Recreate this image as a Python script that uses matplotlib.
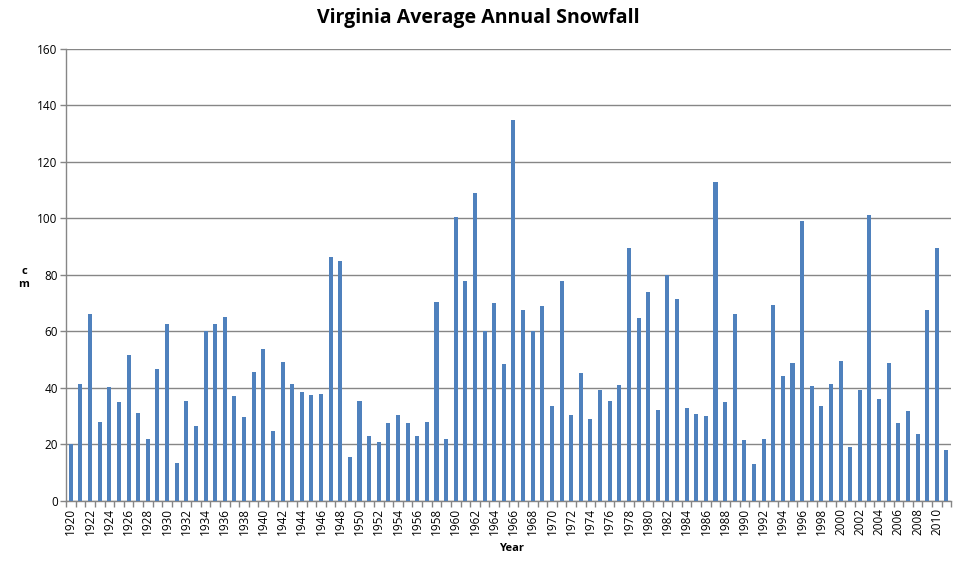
import matplotlib
matplotlib.use("Agg")
import matplotlib.pyplot as plt
import numpy as np

years = list(range(1920, 2012))
snowfall_cm = [
    20.2, 41.4, 66.2, 28.0, 40.4, 35.0, 51.7, 31.2, 21.9, 46.7,
    62.7, 13.5, 35.4, 26.5, 60.1, 62.7, 65.1, 37.2, 29.7, 45.7,
    53.8, 24.8, 49.2, 41.4, 38.6, 37.5, 37.9, 86.4, 85.0, 15.6,
    35.4, 23.0, 20.9, 27.6, 30.4, 27.6, 23.0, 28.0, 70.4, 21.9,
    100.5, 77.9, 109.0, 60.1, 70.1, 48.5, 134.9, 67.6, 60.1, 69.0,
    33.6, 77.9, 30.4, 45.3, 29.0, 39.3, 35.4, 41.1, 89.6, 64.8,
    74.0, 32.2, 80.0, 71.5, 32.9, 30.8, 30.1, 112.9, 35.0, 66.2,
    21.6, 13.1, 21.9, 69.4, 44.2, 48.8, 99.1, 40.7, 33.6, 41.4,
    49.6, 19.1, 39.3, 101.2, 36.1, 48.8, 27.6, 31.9, 23.7, 67.6,
    89.6, 18.1,
]
y_ticks = [0, 20, 40, 60, 80, 100, 120, 140, 160]

title = "Virginia Average Annual Snowfall"
x_title = "Year"
y_title = "c\nm"

plt.rcParams['font.family'] = ['Open Sans', 'DejaVu Sans']

fig = plt.figure(figsize=(9.57, 5.67), dpi=100)
ax = fig.add_axes([0.069, 0.1164, 0.925, 0.7972])

x = np.arange(len(years))
ax.bar(x, snowfall_cm, width=0.42, color="#4F81BD", zorder=3)

ax.set_xlim(-0.5, len(years) - 0.5)
ax.set_ylim(0, 160)
ax.set_yticks(y_ticks)
ax.set_yticklabels([str(v) for v in y_ticks], fontsize=8.5)
ax.yaxis.grid(True, color="#868686", linewidth=1.0, zorder=0)

ax.set_xticks(x[::2])
ax.set_xticklabels([str(y) for y in years[::2]], rotation=90, fontsize=8.5)
ax.set_xticks(np.arange(-0.5, len(years) + 0.5, 1), minor=True)
ax.tick_params(axis='x', which='major', length=0, pad=5)
ax.tick_params(axis='x', which='minor', length=4, color="#868686", width=1)
ax.tick_params(axis='y', which='major', length=4, color="#868686", width=1, pad=2)

for side in ['top', 'right']:
    ax.spines[side].set_visible(False)
for side in ['left', 'bottom']:
    ax.spines[side].set_color("#868686")
    ax.spines[side].set_linewidth(1)

fig.text(0.5, 0.968, title, ha='center', va='center', fontsize=14, fontweight='bold')
fig.text(0.535, 0.032, x_title, ha='center', va='center', fontsize=8, fontweight='bold')
fig.text(0.025, 0.51, y_title, ha='center', va='center', fontsize=8, fontweight='bold', linespacing=1.3)

fig.savefig("out.png", dpi=100)
